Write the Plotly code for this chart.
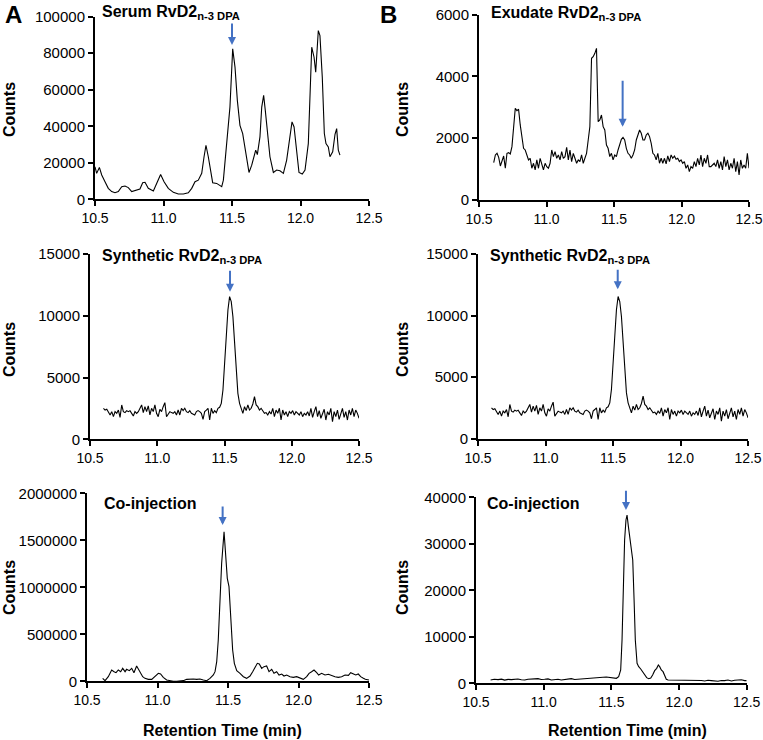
import numpy as np
import plotly.graph_objects as go

# ---------------- data ----------------
# Panel A (top): Serum RvD2 n-3 DPA
serum_t = [10.500, 10.512, 10.532, 10.549, 10.573, 10.597, 10.622, 10.646, 10.670, 10.695,
           10.719, 10.743, 10.768, 10.792, 10.828, 10.848, 10.865, 10.889, 10.926, 10.950,
           10.979, 11.004, 11.035, 11.072, 11.108, 11.145, 11.181, 11.206, 11.230, 11.254,
           11.279, 11.296, 11.310, 11.327, 11.344, 11.359, 11.388, 11.412, 11.425, 11.437,
           11.456, 11.473, 11.485, 11.505, 11.522, 11.539, 11.558, 11.578, 11.595, 11.612,
           11.624, 11.644, 11.661, 11.673, 11.685, 11.704, 11.717, 11.731, 11.743, 11.760,
           11.777, 11.802, 11.826, 11.850, 11.875, 11.899, 11.918, 11.938, 11.953, 11.972,
           11.989, 12.013, 12.033, 12.057, 12.082, 12.099, 12.111, 12.130, 12.142, 12.159,
           12.174, 12.186, 12.203, 12.215, 12.235, 12.252, 12.264, 12.276, 12.288]
serum_counts = [17800, 14200, 17450, 13300, 9600, 6000, 4200, 3600, 4200, 6900,
                7300, 6400, 4200, 4700, 5600, 9100, 9300, 6000, 4500, 8700,
                13600, 9600, 6000, 3800, 2900, 2900, 3600, 6000, 9600, 10500,
                14200, 23300, 29600, 23300, 14200, 9100, 8700, 7800, 6900, 10500,
                26900, 41500, 50500, 82400, 72400, 54200, 40500, 36000, 28700, 19600,
                14700, 18700, 23300, 26900, 24500, 34200, 50500, 56900, 48700, 36000,
                23300, 14700, 16000, 15600, 14200, 21500, 30500, 42400, 39600, 25100,
                14700, 13800, 16000, 30500, 83300, 77800, 69600, 92400, 89600, 66900,
                36000, 30500, 28700, 23300, 26000, 35600, 38700, 26900, 24200]

# Panel B (top): Exudate RvD2 n-3 DPA (uniform scan grid)
exudate_scan_start = 10.609
exudate_scan_step = 0.01228
exudate_counts = [1210, 1458, 1512, 1383, 1102, 1297, 1426, 1027, 1512, 1534,
                  1491, 1728, 2268, 2969, 2893, 2937, 2430, 1944, 1674, 1620,
                  1458, 1297, 1351, 1027, 1189, 973, 1297, 1027, 1351, 1135,
                  973, 1189, 1081, 1027, 1189, 1620, 1405, 1566, 1351, 1458,
                  1297, 1566, 1351, 1405, 1707, 1297, 1620, 1243, 1512, 1351,
                  1189, 1297, 1243, 1458, 1189, 1351, 1512, 1944, 2376, 4588,
                  4642, 4749, 4911,
                  2538, 2591, 2753, 2376, 2268, 1782, 1674, 1405, 1512, 1297,
                  1458, 1405, 1620, 1782, 1966, 2030, 1944, 1674, 1512, 1458,
                  1351, 1458, 1620, 1944, 2106, 2268, 2160, 1944, 1944, 2106,
                  2160, 2052, 1836, 1512, 1458, 1297, 1512, 1189, 1351, 1189,
                  1351, 1167, 1426, 1243, 1458, 1351, 1426, 1318, 1351, 1243,
                  1297, 1189, 1243, 1027, 1135, 919, 1081, 1027, 1243, 1081,
                  1351, 1135, 1458, 1081, 1351, 1189, 1458, 1081, 1081, 1135,
                  1189, 1081, 1297, 1027, 1243, 973, 1405, 1081, 1297, 973,
                  1189, 1027, 1351, 919, 1243, 811, 1297, 1027, 1135, 1027,
                  1512, 1027]

# Middle panels: Synthetic RvD2 n-3 DPA (uniform scan grid)
synthetic_scan_start = 10.600
synthetic_scan_step = 0.01234
synthetic_counts = [2510, 2370, 2430, 2160, 1970, 2240, 1830, 2240, 2100, 2370,
                    1780, 2780, 2240, 2160, 2320, 2240, 2320, 2100, 1890, 2240,
                    2100, 2240, 2510, 2780, 2160, 2640, 2240, 2700, 1970, 2510,
                    2240, 2780, 2100, 1830, 2430, 2240, 2640, 2970, 1830, 2100,
                    2240, 2160, 2100, 2240, 1970, 2370, 1970, 2510, 2320, 2510,
                    2240, 2160, 2320, 2100, 2020, 1970, 2240, 2320, 2240, 2100,
                    1620, 2240, 2370, 2510, 1560, 2510, 2100, 2320, 2160, 2510,
                    2590, 2910, 3990, 6150, 8580, 10470, 11550, 11140, 9930, 8040,
                    5610, 3720, 2910, 2510, 2100, 2640, 2320, 2780, 2370, 2510,
                    2860, 3450, 2780, 2640, 2370, 2510, 2240, 2100, 2160, 1970,
                    2240, 2050, 2510, 1830, 2370, 2100, 2510, 1560, 2370, 1970,
                    2240, 1830, 2240, 2100, 2320, 1970, 2240, 2100, 1970, 2240,
                    1830, 2100, 1970, 2240, 1890, 2510, 1780, 2240, 2640, 1830,
                    2320, 1700, 2100, 2430, 1560, 2240, 1970, 2510, 1430, 2240,
                    1830, 2370, 1620, 2100, 2510, 1780, 2240, 1560, 2370, 1970,
                    2510, 1830, 2370, 2100, 1700]

# Bottom A: Co-injection (serum)
coinj_a_t = [10.611, 10.628, 10.651, 10.675, 10.692, 10.706, 10.722, 10.739, 10.753, 10.770,
             10.781, 10.800, 10.817, 10.833, 10.852, 10.869, 10.881, 10.895, 10.911, 10.935,
             10.959, 10.982, 11.006, 11.022, 11.041, 11.065, 11.089, 11.112, 11.136, 11.160,
             11.183, 11.207, 11.231, 11.254, 11.278, 11.301, 11.325, 11.349, 11.372, 11.396,
             11.408, 11.420, 11.431, 11.443, 11.455, 11.472, 11.483, 11.495, 11.507, 11.519,
             11.533, 11.545, 11.562, 11.585, 11.609, 11.632, 11.656, 11.675, 11.692, 11.708,
             11.722, 11.739, 11.755, 11.774, 11.791, 11.810, 11.826, 11.845, 11.862, 11.881,
             11.897, 11.916, 11.940, 11.963, 11.987, 12.011, 12.034, 12.058, 12.075, 12.093,
             12.110, 12.129, 12.143, 12.164, 12.188, 12.212, 12.235, 12.259, 12.282, 12.306,
             12.330, 12.354, 12.370, 12.389, 12.406, 12.424, 12.441, 12.460, 12.474, 12.500]
coinj_a_counts = [31500, 6700, 49200, 120200, 102400, 91800, 120200, 102400, 138000, 102400,
                  127300, 113100, 138000, 91800, 162700, 120200, 91800, 49200, 31500, 20900,
                  20900, 49200, 84700, 77600, 42100, 13800, 3100, 0, 0, 3100,
                  6700, 20900, 24400, 24400, 20900, 24400, 13800, 6700, 31500, 67000,
                  102400, 208800, 439300, 864800, 1255000, 1591700, 1325800, 1095300, 1006700, 687500,
                  333000, 191100, 113100, 84700, 49200, 31500, 56300, 102400, 155600, 191100,
                  184000, 138000, 155600, 162700, 102400, 127300, 84700, 102400, 67000, 77600,
                  56300, 67000, 49200, 42100, 49200, 31500, 20900, 49200, 84700, 102400,
                  120200, 91800, 67000, 84700, 67000, 74100, 59900, 49200, 42100, 49200,
                  67000, 63400, 91800, 77600, 67000, 77600, 49200, 31500, 20900, 13800]

# Bottom B: Co-injection (exudate)
coinj_b_t = [10.608, 10.635, 10.663, 10.688, 10.712, 10.737, 10.761, 10.785, 10.810, 10.835,
             10.860, 10.884, 10.909, 10.933, 10.958, 10.982, 11.007, 11.032, 11.057, 11.081,
             11.106, 11.130, 11.155, 11.180, 11.204, 11.229, 11.254, 11.278, 11.303, 11.328,
             11.352, 11.377, 11.402, 11.438, 11.463, 11.488, 11.512, 11.537, 11.554, 11.569,
             11.579, 11.589, 11.598, 11.608, 11.616, 11.626, 11.638, 11.650, 11.658, 11.668,
             11.677, 11.690, 11.702, 11.717, 11.732, 11.746, 11.761, 11.776, 11.791, 11.805,
             11.820, 11.835, 11.847, 11.857, 11.869, 11.882, 11.894, 11.906, 11.919, 11.943,
             11.968, 11.993, 12.017, 12.042, 12.066, 12.091, 12.115, 12.140, 12.165, 12.190,
             12.214, 12.239, 12.263, 12.288, 12.312, 12.337, 12.362, 12.387, 12.411, 12.436,
             12.460, 12.485, 12.500]
coinj_b_counts = [710, 860, 790, 900, 680, 850, 780, 900, 930, 760,
                  710, 880, 860, 950, 1000, 820, 860, 950, 710, 830,
                  860, 700, 780, 900, 1000, 820, 860, 950, 930, 1050,
                  1000, 1100, 1070, 1290, 1360, 1220, 1070, 1070, 1430, 2860,
                  9310, 20070, 30820, 35120, 36190, 33690, 31180, 27950, 26520, 17920,
                  9310, 4300, 3580, 3080, 2500, 1790, 1220, 1000, 1140, 1790,
                  2720, 3220, 3940, 3580, 2860, 2500, 1790, 860, 710, 710,
                  640, 570, 680, 640, 570, 570, 680, 710, 600, 500,
                  640, 570, 500, 430, 600, 570, 710, 500, 650, 640,
                  750, 570, 570]

x_ticks = [10.5, 11.0, 11.5, 12.0, 12.5]
panel_titles = ["Serum RvD2<sub>n-3 DPA</sub>", "Exudate RvD2<sub>n-3 DPA</sub>",
                "Synthetic RvD2<sub>n-3 DPA</sub>", "Synthetic RvD2<sub>n-3 DPA</sub>",
                "Co-injection", "Co-injection"]
y_ranges = [(0, 100000), (0, 6000), (0, 15000), (0, 15000), (0, 2000000), (0, 40000)]
y_dticks = [20000, 2000, 5000, 5000, 500000, 10000]
# arrow: x position, tip value, tail value
arrows = [(11.500, 84500, 97100), (11.564, 2373, 3908),
          (11.541, 11948, 13762), (11.535, 12133, 13839),
          (11.462, 1663000, 1876000), (11.608, 37270, 41720)]

exudate_t = [exudate_scan_start + exudate_scan_step * i for i in range(len(exudate_counts))]
synthetic_t = [synthetic_scan_start + synthetic_scan_step * i for i in range(len(synthetic_counts))]

series = [(serum_t, serum_counts), (exudate_t, exudate_counts),
          (synthetic_t, synthetic_counts), (synthetic_t, synthetic_counts),
          (coinj_a_t, coinj_a_counts), (coinj_b_t, coinj_b_counts)]

# ---------------- layout geometry (pixels) ----------------
W, H = 763, 740
# (left, right, top, bottom) px for each plot area
boxes = [(95, 369, 16.7, 199.3), (479, 749, 14.7, 200.0),
         (90, 359, 254.0, 439.3), (478, 748, 254.0, 438.7),
         (87, 369, 493.3, 681.3), (476, 746.7, 497.3, 683.3)]
title_pos = [(100, 12), (489, 13), (100, 256), (488, 256), (102, 503), (485, 503)]
counts_pos = [(9, 110), (402, 110), (9, 350), (402, 350), (9, 588), (402, 588)]

FONT = "Liberation Sans, Arial, Helvetica, sans-serif"
BLUE = "#4472C4"

fig = go.Figure()
layout = dict(width=W, height=H, margin=dict(l=0, r=0, t=0, b=0, autoexpand=False),
              paper_bgcolor="white", plot_bgcolor="white", showlegend=False,
              font=dict(family=FONT, color="black"))
annotations = []

for i, ((t, c), box) in enumerate(zip(series, boxes)):
    n = i + 1
    xa = "xaxis" if n == 1 else f"xaxis{n}"
    ya = "yaxis" if n == 1 else f"yaxis{n}"
    xr = "x" if n == 1 else f"x{n}"
    yr = "y" if n == 1 else f"y{n}"
    l, r, tp, bt = box
    layout[xa] = dict(domain=[l / W, r / W], anchor=yr, range=[10.5, 12.5],
                      tickvals=x_ticks, ticktext=[f"{v:.1f}" for v in x_ticks],
                      showline=True, linecolor="black", linewidth=2,
                      ticks="outside", ticklen=5, tickwidth=2, tickcolor="black",
                      showgrid=False, zeroline=False, automargin=False,
                      tickfont=dict(size=14, family=FONT, color="black"))
    y0, y1 = y_ranges[i]
    layout[ya] = dict(domain=[1 - bt / H, 1 - tp / H], anchor=xr, range=[y0, y1],
                      dtick=y_dticks[i], tick0=0, tickformat="d",
                      showline=True, linecolor="black", linewidth=2,
                      ticks="outside", ticklen=5, tickwidth=2, tickcolor="black",
                      showgrid=False, zeroline=False, automargin=False,
                      tickfont=dict(size=15, family=FONT, color="black"))
    fig.add_trace(go.Scatter(x=t, y=c, mode="lines", xaxis=xr, yaxis=yr,
                             line=dict(color="black", width=1.1), hoverinfo="skip"))
    # arrow
    ax_x, tip, tail = arrows[i]
    annotations.append(dict(x=ax_x, y=tip, ax=ax_x, ay=tail, xref=xr, yref=yr,
                            axref=xr, ayref=yr, showarrow=True, arrowhead=2,
                            arrowsize=0.8, arrowwidth=2, arrowcolor=BLUE,
                            standoff=0, text=""))
    # panel title
    tx, ty = title_pos[i]
    annotations.append(dict(x=tx / W, y=1 - ty / H, xref="paper", yref="paper",
                            xanchor="left", yanchor="middle", showarrow=False,
                            text=f"<b>{panel_titles[i]}</b>",
                            font=dict(size=16, family=FONT, color="black")))
    # y axis title
    cx, cy = counts_pos[i]
    annotations.append(dict(x=cx / W, y=1 - cy / H, xref="paper", yref="paper",
                            xanchor="center", yanchor="middle", showarrow=False,
                            textangle=-90, text="<b>Counts</b>",
                            font=dict(size=16, family=FONT, color="black")))

# x axis titles
for cx in (222, 627):
    annotations.append(dict(x=cx / W, y=1 - 730 / H, xref="paper", yref="paper",
                            xanchor="center", yanchor="middle", showarrow=False,
                            text="<b>Retention Time (min)</b>",
                            font=dict(size=16, family=FONT, color="black")))
# panel letters
for letter, (lx, ly) in (("A", (13, 14)), ("B", (388, 14))):
    annotations.append(dict(x=lx / W, y=1 - ly / H, xref="paper", yref="paper",
                            xanchor="center", yanchor="middle", showarrow=False,
                            text=f"<b>{letter}</b>",
                            font=dict(size=24, family=FONT, color="black")))

layout["annotations"] = annotations
fig.update_layout(**layout)
fig.write_html("out.html", config={"displayModeBar": False},
               post_script="document.body.style.margin='0';"
                           "document.body.style.overflow='hidden';")
